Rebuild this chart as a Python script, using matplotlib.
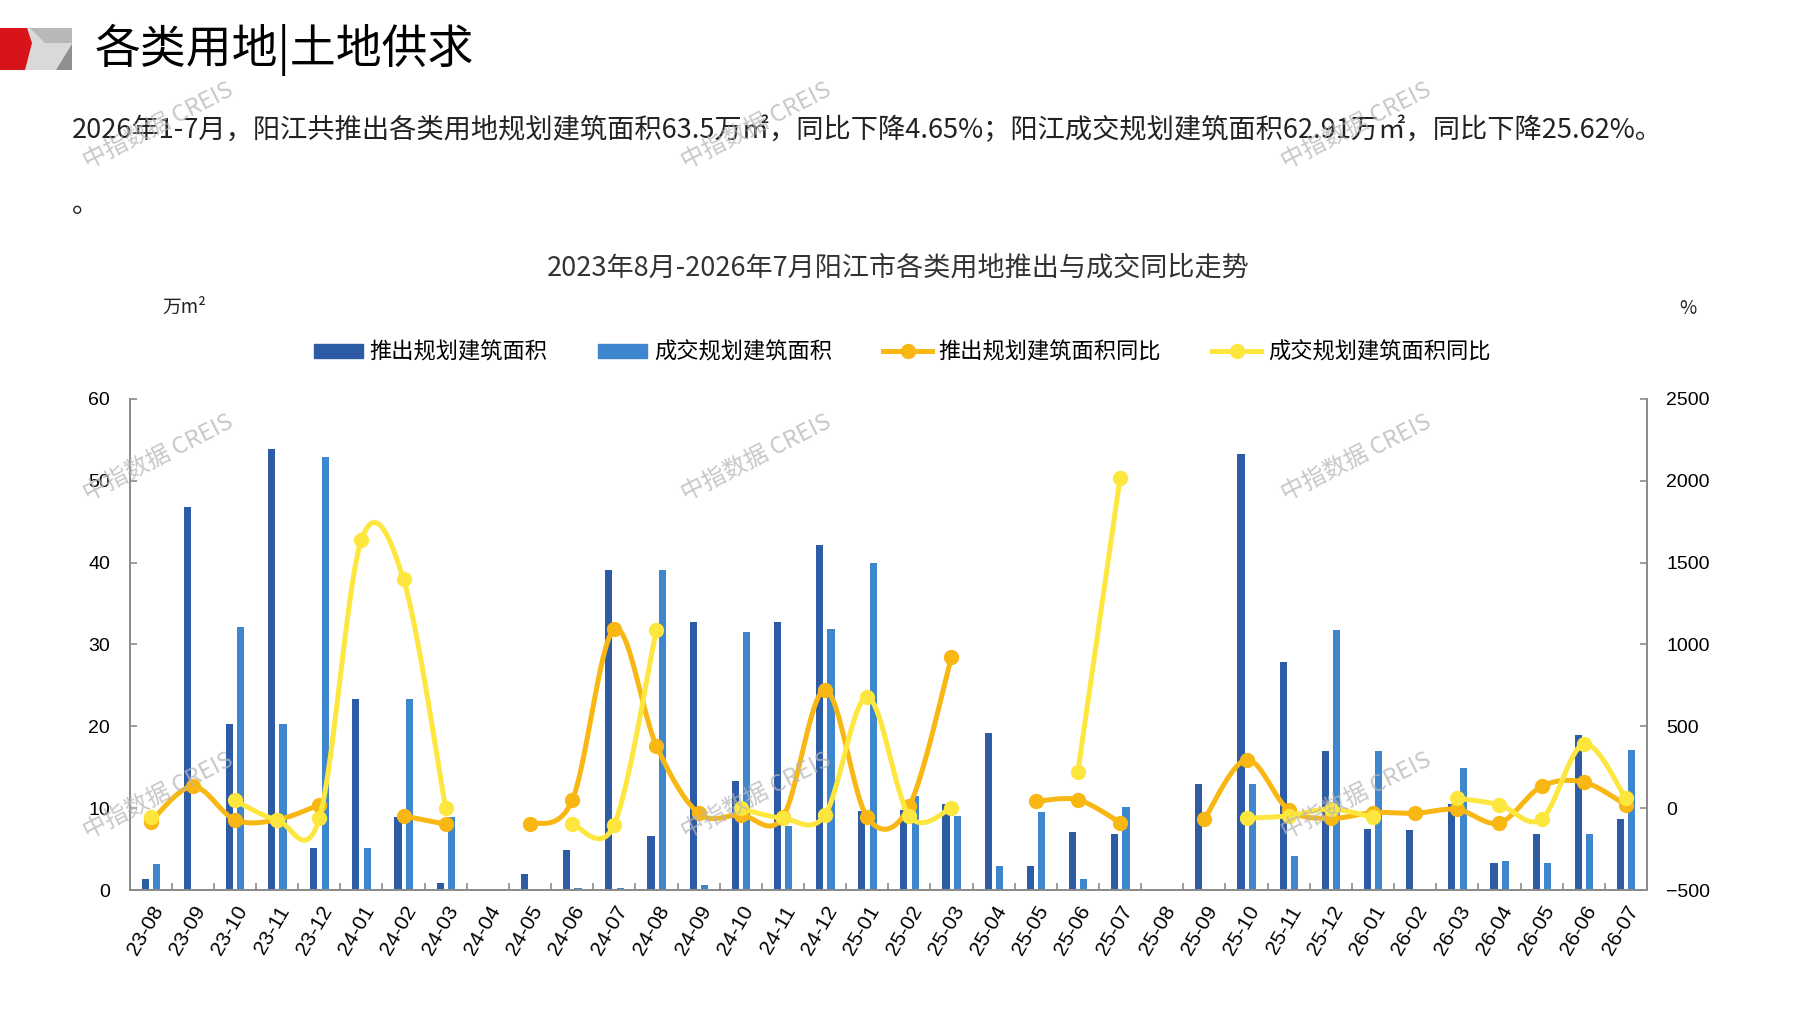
import numpy as np
import matplotlib
matplotlib.use('Agg')
import matplotlib.pyplot as plt
from matplotlib.patches import Polygon, Patch
from matplotlib.lines import Line2D

plt.rcParams['font.family'] = ['Noto Sans CJK SC', 'DejaVu Sans']

# 月份
months = ['23-08', '23-09', '23-10', '23-11', '23-12', '24-01', '24-02', '24-03',
          '24-04', '24-05', '24-06', '24-07', '24-08', '24-09', '24-10', '24-11',
          '24-12', '25-01', '25-02', '25-03', '25-04', '25-05', '25-06', '25-07',
          '25-08', '25-09', '25-10', '25-11', '25-12', '26-01', '26-02', '26-03',
          '26-04', '26-05', '26-06', '26-07']
# 推出规划建筑面积（万m²）
supply = [1.3, 46.8, 20.3, 53.9, 5.1, 23.3, 8.9, 0.9,
          0, 1.9, 4.9, 39.1, 6.6, 32.7, 13.3, 32.7,
          42.1, 9.6, 9.8, 10.5, 19.2, 2.9, 7.1, 6.9,
          0, 12.9, 53.3, 27.8, 17.0, 7.4, 7.3, 10.5,
          3.3, 6.9, 18.9, 8.7]
# 成交规划建筑面积（万m²）
deal = [3.2, 0, 32.1, 20.3, 52.9, 5.1, 23.3, 8.9,
        0, 0, 0.3, 0.3, 39.1, 0.6, 31.5, 7.8,
        31.9, 39.9, 11.5, 9.1, 2.9, 9.5, 1.3, 10.2,
        0, 0, 12.9, 4.2, 31.8, 17.0, 0, 14.9,
        3.6, 3.3, 6.9, 17.1]
# 同比（%），None 为无数据
supply_yoy = [-82, 133, -71, -71, 20, None, -47, -98,
              None, -97, 47, 1095, 381, -31, -41, -55,
              724, -55, 14, 924, None, 41, 51, -88,
              None, -67, 296, -10, -62, -27, -31, -8,
              -90, 133, 159, 20]
deal_yoy = [-55, None, 47, -71, -63, 1639, 1397, 0,
            None, None, -95, -100, 1091, None, -2, -61,
            -41, 679, -47, 0, None, None, 224, 2018,
            None, None, -62, -46, -5, -57, None, 61,
            20, -67, 392, 61]

c_supply = '#2E5BA6'
c_deal = '#3E87CF'
c_supply_yoy = '#F8B712'
c_deal_yoy = '#FDE73E'
grey = '#8c8c8c'


def smooth(xs, ys, n=24):
    # Excel 风格平滑线，遇到空值断开
    segs, cur = [], []
    for x, y in zip(xs, ys):
        if y is None:
            if cur:
                segs.append(cur)
            cur = []
        else:
            cur.append((x, y))
    if cur:
        segs.append(cur)
    out = []
    for seg in segs:
        p = np.array(seg, float)
        if len(p) == 1:
            out.append((p[:, 0], p[:, 1]))
            continue
        bx, by = [], []
        t = np.linspace(0, 1, n)[:, None]
        for i in range(len(p) - 1):
            p0 = p[i - 1] if i > 0 else p[i]
            p1, p2 = p[i], p[i + 1]
            p3 = p[i + 2] if i + 2 < len(p) else p[i + 1]
            c1 = p1 + (p2 - p0) / 6
            c2 = p2 - (p3 - p1) / 6
            b = (1 - t) ** 3 * p1 + 3 * (1 - t) ** 2 * t * c1 + 3 * (1 - t) * t ** 2 * c2 + t ** 3 * p2
            bx.append(b[:, 0])
            by.append(b[:, 1])
        out.append((np.concatenate(bx), np.concatenate(by)))
    return out


fig = plt.figure(figsize=(17.97, 10.10), dpi=100)
ax = fig.add_axes([0.0721, 0.1188, 0.8444, 0.4862])
ax2 = ax.twinx()

x = np.arange(len(months))
w = 0.17
ax.bar(x - 0.13, supply, width=w, color=c_supply, zorder=2)
ax.bar(x + 0.14, deal, width=w, color=c_deal, zorder=2)

for yoy, col in [(supply_yoy, c_supply_yoy), (deal_yoy, c_deal_yoy)]:
    for sx, sy in smooth(x, yoy):
        ax2.plot(sx, sy, color=col, lw=3.6, solid_capstyle='round')
    xm = [xi for xi, v in zip(x, yoy) if v is not None]
    ym = [v for v in yoy if v is not None]
    ax2.plot(xm, ym, 'o', color=col, markersize=10, linestyle='none')

ax.set_xlim(-0.5, len(months) - 0.5)
ax.set_ylim(0, 60)
ax.set_yticks(range(0, 61, 10))
ax2.set_ylim(-500, 2500)
ax2.set_yticks(range(-500, 2501, 500))

ax.set_xticks(x)
ax.set_xticklabels(months, rotation=60, ha='right', va='top', rotation_mode='anchor',
                   fontsize=15, family=['Liberation Sans', 'DejaVu Sans'])
ax.set_xticks(np.arange(0.5, len(months) - 0.5, 1), minor=True)
ax.tick_params(axis='x', which='major', length=0, pad=9)
ax.tick_params(axis='x', which='minor', direction='in', length=5, color=grey, width=1.2)
ax.tick_params(axis='y', direction='in', length=5, color=grey, width=1.2, pad=14, labelsize=14)
ax2.tick_params(axis='y', direction='in', length=5, color=grey, width=1.2, pad=14, labelsize=14)
for a in (ax, ax2):
    for lab in a.get_yticklabels():
        lab.set_family(['Liberation Sans', 'DejaVu Sans'])
    a.spines['top'].set_visible(False)
    for s in ('left', 'right', 'bottom'):
        a.spines[s].set_color(grey)
        a.spines[s].set_linewidth(1.4)

handles = [Patch(color=c_supply), Patch(color=c_deal),
           Line2D([], [], color=c_supply_yoy, lw=3.6, marker='o', markersize=10),
           Line2D([], [], color=c_deal_yoy, lw=3.6, marker='o', markersize=10)]
labels = ['推出规划建筑面积', '成交规划建筑面积', '推出规划建筑面积同比', '成交规划建筑面积同比']
fig.legend(handles, labels, loc='center', bbox_to_anchor=(0.502, 0.6515), ncol=4,
           frameon=False, fontsize=16, handlelength=2.2, handleheight=0.6,
           handletextpad=0.3, columnspacing=2.3)

# 页面上的其他文字与装饰
ov = fig.add_axes([0, 0, 1, 1])
ov.set_xlim(0, 1797)
ov.set_ylim(1010, 0)
ov.axis('off')

ov.add_patch(Polygon([(25, 28), (72, 28), (72, 70), (25, 70)], closed=True, color='#d9d9d9', lw=0))
ov.add_patch(Polygon([(30, 28), (72, 28), (72, 43), (45, 43)], closed=True, color='#b8b8b8', lw=0))
ov.add_patch(Polygon([(56, 70), (72, 44), (72, 70)], closed=True, color='#8f8f8f', lw=0))
ov.add_patch(Polygon([(0, 28), (27, 28), (32, 43), (25, 70), (0, 70)], closed=True, color='#d7141a', lw=0))

ov.text(95, 50, '各类用地|土地供求', fontsize=33, va='center', ha='left', color='black')
ov.text(72, 130, '2026年1-7月，阳江共推出各类用地规划建筑面积63.5万㎡，同比下降4.65%；'
        '阳江成交规划建筑面积62.91万㎡，同比下降25.62%。',
        fontsize=19.6, va='center', ha='left', color='#222222')
ov.text(72, 204, '。', fontsize=19.6, va='center', ha='left', color='#222222')
ov.text(898, 268, '2023年8月-2026年7月阳江市各类用地推出与成交同比走势',
        fontsize=19.5, va='center', ha='center', color='#333333')
ov.text(184, 307, '万m²', fontsize=13.5, va='center', ha='center', color='#222222')
ov.text(1688, 309, '%', fontsize=13.5, va='center', ha='center', color='#222222')

for wx in (158, 756, 1356):
    for wy in (126, 458, 796):
        ov.text(wx, wy, '中指数据 CREIS', fontsize=17, rotation=27, ha='center', va='center',
                color='#b5b5b5', alpha=0.75, zorder=10)

fig.savefig('out.png', dpi=100)
